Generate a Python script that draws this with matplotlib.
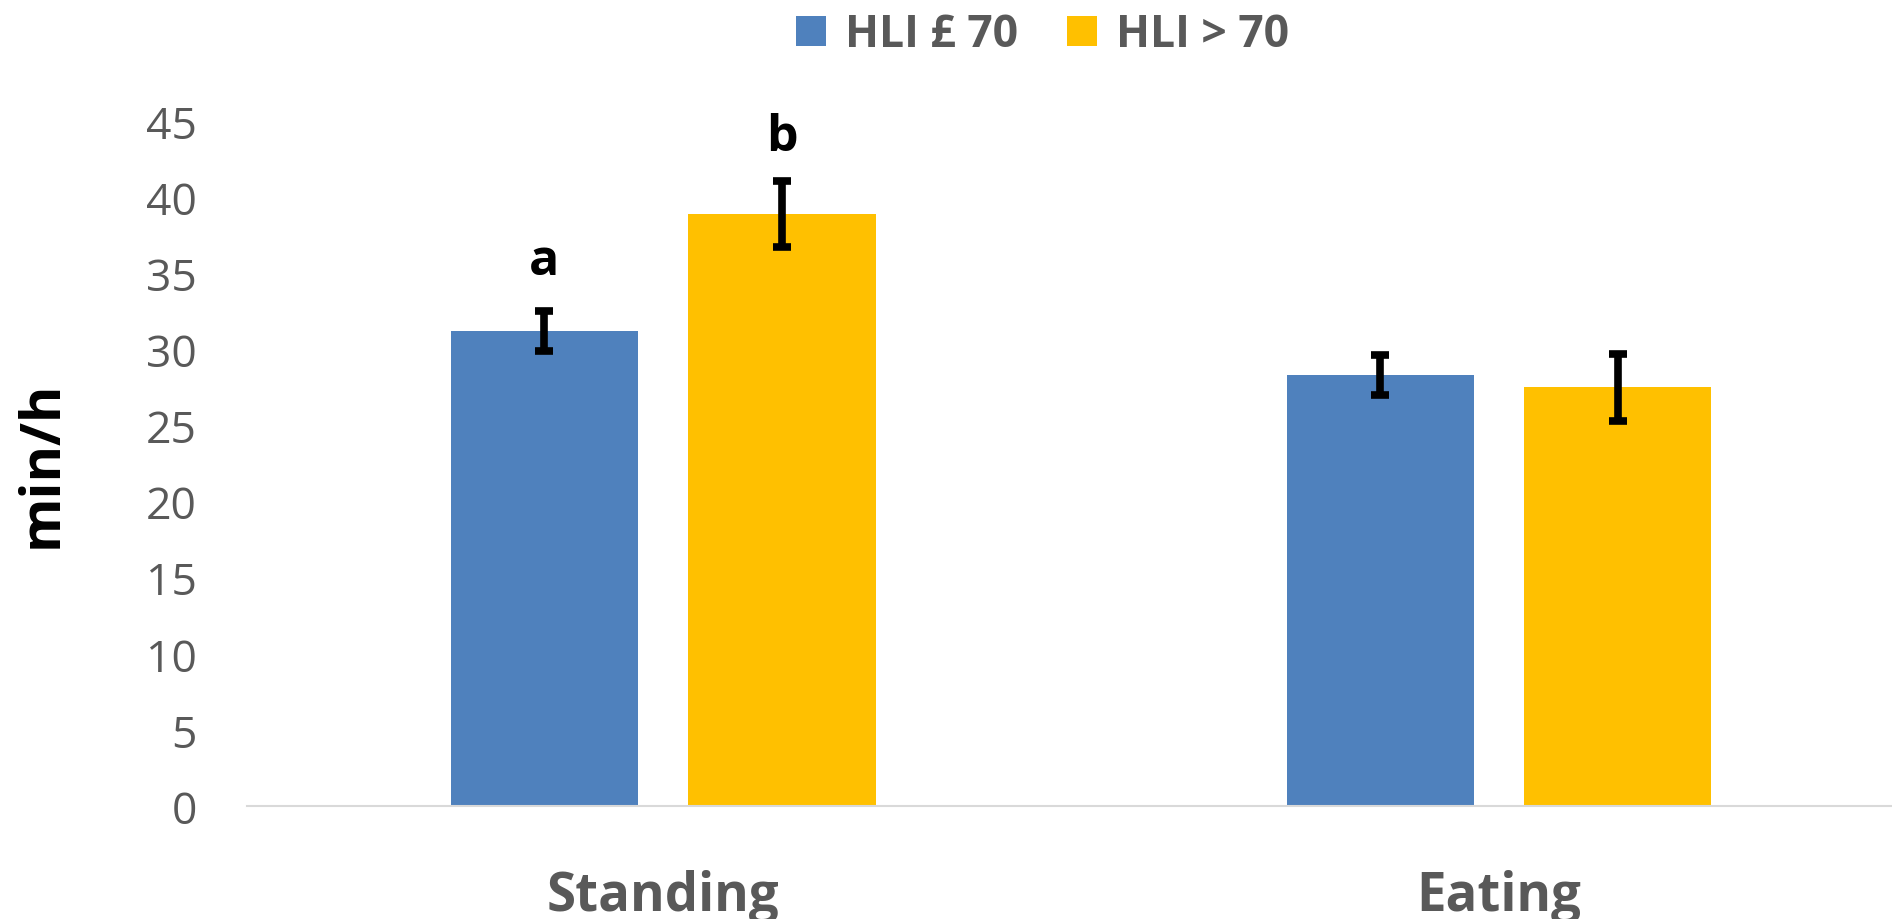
import numpy as np
import matplotlib
matplotlib.use('Agg')
import matplotlib.pyplot as plt

plt.rcParams['font.family'] = ['Open Sans', 'DejaVu Sans']

# data
categories = ['Standing', 'Eating']
series = ['HLI £ 70', 'HLI > 70']
low_hli = [31.2, 28.3]
high_hli = [38.9, 27.5]
low_err = [1.3, 1.3]
high_err = [2.15, 2.2]
letters_low = ['a', '']
letters_high = ['b', '']
colors = ['#4F81BD', '#FFC000']
grey = '#595959'

fig = plt.figure(figsize=(18.92, 9.2), dpi=100)
ax = fig.add_axes([0.1305, 0.1228, 0.8695, 0.7446])

x = np.arange(len(categories))
w = 0.224
off = 0.142

b1 = ax.bar(x - off, low_hli, w, color=colors[0], label=series[0])
b2 = ax.bar(x + off, high_hli, w, color=colors[1], label=series[1])
ekw = dict(fmt='none', ecolor='black', elinewidth=5.5, capsize=6.5, capthick=5.5)
ax.errorbar(x - off, low_hli, yerr=low_err, **ekw)
ax.errorbar(x + off, high_hli, yerr=high_err, **ekw)

# significance letters
for i in range(len(categories)):
    if letters_low[i]:
        ax.text(x[i] - off, low_hli[i] + 3.75, letters_low[i], ha='center', va='baseline',
                fontsize=36, fontweight='bold', color='black')
    if letters_high[i]:
        ax.text(x[i] + off, high_hli[i] + 4.2, letters_high[i], ha='center', va='baseline',
                fontsize=36, fontweight='bold', color='black')

ax.set_xlim(-0.498, 1.47)
ax.set_ylim(0, 45)
ax.set_yticks(np.arange(0, 46, 5))
ax.set_xticks(x)
ax.set_xticklabels(categories, fontsize=38, fontweight='bold', color=grey)
ax.tick_params(axis='x', length=0, pad=45)
ax.tick_params(axis='y', length=0, pad=36, labelsize=32, labelcolor=grey)

for s in ['top', 'right', 'left']:
    ax.spines[s].set_visible(False)
ax.spines['bottom'].set_color('#D9D9D9')
ax.spines['bottom'].set_linewidth(1.5)

ax.set_ylabel('min/h', fontsize=40, fontweight='bold', color='black')
ax.yaxis.set_label_coords(-0.1076, 0.5)

fig.legend(handles=[b1, b2], labels=series, loc='center', bbox_to_anchor=(0.551, 0.961),
           ncol=2, frameon=False, handlelength=0.68, handleheight=0.68,
           handletextpad=0.42, columnspacing=1.1,
           prop={'size': 32, 'weight': 'bold'}, labelcolor=grey)

plt.savefig('out.png', dpi=100)
